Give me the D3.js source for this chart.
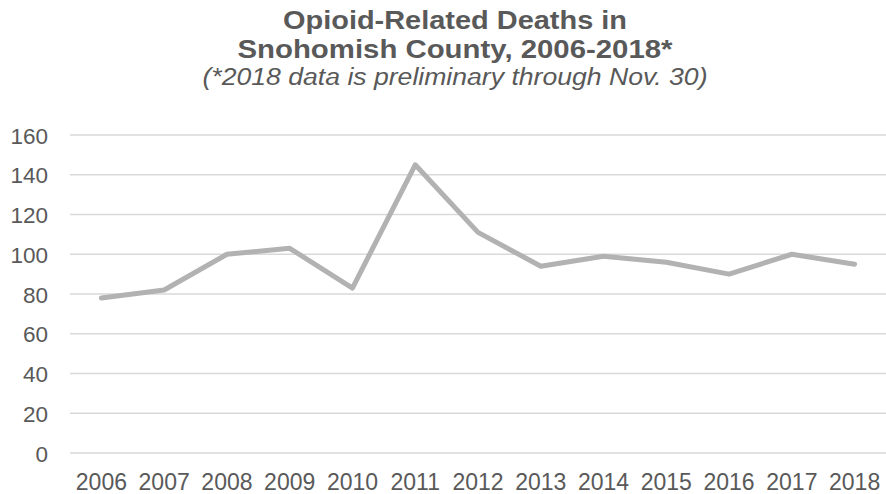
<!DOCTYPE html>
<html><head><meta charset="utf-8">
<script src="https://cdn.jsdelivr.net/npm/d3@7"></script>
<style>body{margin:0;background:#fff}svg{display:block}</style>
</head><body>
<svg id="c" width="886" height="494"></svg>
<script>
const years = ["2006","2007","2008","2009","2010","2011","2012","2013","2014","2015","2016","2017","2018"];
const deaths = [78,82,100,103,83,145,111,94,99,96,90,100,95];
const yTicks = [0,20,40,60,80,100,120,140,160];
const titleLines = ["Opioid-Related Deaths in","Snohomish County, 2006-2018*"];
const subtitle = "(*2018 data is preliminary through Nov. 30)";

(function(){
const svg = d3.select("#c");
const font = "'Liberation Sans', Arial, sans-serif";
const pl = 70, pr = 886, pt = 135, pb = 453;
const x = d3.scaleBand().domain(years).range([pl, pr]);
const y = d3.scaleLinear().domain([0,160]).range([pb, pt]);

svg.append("g").selectAll("line").data(yTicks).join("line")
  .attr("x1", pl).attr("x2", pr)
  .attr("y1", d=>y(d)).attr("y2", d=>y(d))
  .attr("stroke", "#d9d9d9").attr("stroke-width", 1.5);

const ya = svg.append("g").attr("transform", `translate(${pl-22},0)`)
  .call(d3.axisLeft(y).tickValues(yTicks).tickSize(0).tickPadding(0));
ya.select(".domain").remove();
ya.selectAll("text").attr("font-family", font).attr("font-size", 22.5).attr("fill", "#595959").attr("dy","0.36em");

const xa = svg.append("g").attr("transform", `translate(0,490)`)
  .call(d3.axisBottom(x).tickSize(0).tickPadding(0));
xa.select(".domain").remove();
xa.selectAll("text").attr("font-family", font).attr("font-size", 23).attr("fill", "#595959").attr("dy", "0");

const line = d3.line().x((d,i)=>x(years[i]) + x.bandwidth()/2).y(d=>y(d));
svg.append("path").datum(deaths).attr("d", line)
  .attr("fill","none").attr("stroke","#b2b2b2").attr("stroke-width",5)
  .attr("stroke-linejoin","round").attr("stroke-linecap","round");

const tl = svg.append("g").selectAll("text").data(titleLines).join("text")
  .attr("x", 455).attr("y", (d,i)=>29 + i*28.5)
  .attr("text-anchor","middle").attr("font-family", font)
  .attr("font-weight","bold").attr("font-size",25).attr("fill","#595959")
  .text(d=>d);
tl.each(function(d,i){
  const want = i === 0 ? 344 : 435;
  d3.select(this).attr("textLength", want).attr("lengthAdjust","spacingAndGlyphs");
});
svg.append("text").attr("x",455).attr("y",84.5).attr("text-anchor","middle")
  .attr("font-family",font).attr("font-style","italic").attr("font-size",23)
  .attr("textLength",505).attr("lengthAdjust","spacingAndGlyphs")
  .attr("fill","#595959").text(subtitle);
})();
</script>
</body></html>
